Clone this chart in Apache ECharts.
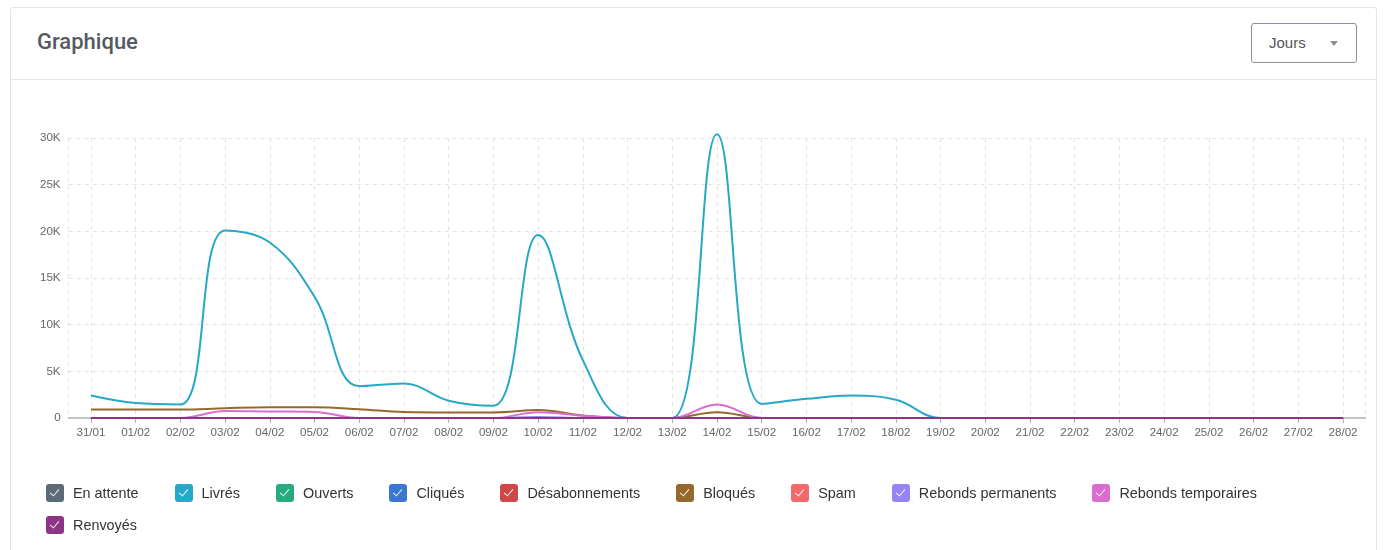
<!DOCTYPE html>
<html>
<head>
<meta charset="utf-8">
<script src="https://cdn.jsdelivr.net/npm/echarts@6/dist/echarts.min.js"></script>
<style>
  html, body { margin:0; padding:0; background:#fff; width:1389px; height:550px; overflow:hidden; }
  #card { position:absolute; left:10px; top:7px; width:1367px; height:560px; border:1px solid #e4e4e4; border-radius:3px; box-sizing:border-box; }
  #hdr { position:absolute; left:0; top:0; right:0; height:71px; border-bottom:1px solid #e4e4e4; }
  #title { position:absolute; left:26px; top:21px; font-family:Roboto, "Noto Sans", sans-serif; font-weight:500; font-size:22px; color:#555a60; }
  #btn { position:absolute; left:1240px; top:15px; width:106px; height:40px; box-sizing:border-box; border:1px solid #8a9099; border-radius:3px; font-family:"Liberation Sans", Arial, sans-serif; font-size:15px; color:#555; }
  #btn span.t { position:absolute; left:17px; top:10px; }
  #btn span.c { position:absolute; left:78px; top:17px; width:0; height:0; border-left:4px solid transparent; border-right:4px solid transparent; border-top:5px solid #8a8f96; }
  #chart { position:absolute; left:0; top:0; width:1389px; height:550px; }
  #legend { position:absolute; left:46px; top:484px; width:1290px; display:flex; flex-wrap:wrap; row-gap:14px; font-family:"Liberation Sans", Arial, sans-serif; font-size:14.4px; color:#333; }
  .it { display:flex; align-items:center; margin-right:36px; height:18px; }
  .bx { position:relative; width:18px; height:18px; border-radius:3px; margin-right:9px; }
  .bx::after { content:""; position:absolute; left:6px; top:3px; width:4px; height:8px; border-right:1.5px solid rgba(255,255,255,0.9); border-bottom:1.5px solid rgba(255,255,255,0.9); transform:rotate(40deg); }
</style>
</head>
<body>
<div id="card">
  <div id="hdr">
    <div id="title">Graphique</div>
    <div id="btn"><span class="t">Jours</span><span class="c"></span></div>
  </div>
</div>
<div id="chart"></div>
<div id="legend"></div>
<script>
const categories = ["31/01","01/02","02/02","03/02","04/02","05/02","06/02","07/02","08/02","09/02","10/02","11/02","12/02","13/02","14/02","15/02","16/02","17/02","18/02","19/02","20/02","21/02","22/02","23/02","24/02","25/02","26/02","27/02","28/02"];
const yTicks = [0, 5000, 10000, 15000, 20000, 25000, 30000];

const enAttente      = [0,0,0,0,0,0,0,0,0,0,0,0,0,0,0,0,0,0,0,0,0,0,0,0,0,0,0,0,0];
const livres         = [2400,1600,1450,20100,18800,13000,3400,3700,1850,1300,19600,6200,0,0,30400,1500,2050,2400,1950,0,0,0,0,0,0,0,0,0,0];
const ouverts        = [0,0,0,0,0,0,0,0,0,0,0,0,0,0,0,0,0,0,0,0,0,0,0,0,0,0,0,0,0];
const cliques        = [0,0,0,0,0,0,0,0,0,0,0,0,0,0,0,0,0,0,0,0,0,0,0,0,0,0,0,0,0];
const desabonnements = [0,0,0,0,0,0,0,0,0,0,0,0,0,0,0,0,0,0,0,0,0,0,0,0,0,0,0,0,0];
const bloques        = [900,900,900,1050,1150,1150,950,650,600,600,850,280,0,0,620,0,0,0,0,0,0,0,0,0,0,0,0,0,0];
const spam           = [0,0,0,0,0,0,0,0,0,0,0,0,0,0,0,0,0,0,0,0,0,0,0,0,0,0,0,0,0];
const rebondsPerm    = [0,0,0,0,0,0,0,0,0,0,120,0,0,0,0,0,0,0,0,0,0,0,0,0,0,0,0,0,0];
const rebondsTemp    = [0,0,0,750,700,650,0,0,0,0,620,250,0,0,1450,0,0,0,0,0,0,0,0,0,0,0,0,0,0];
const renvoyes       = [0,0,0,0,0,0,0,0,0,0,0,0,0,0,0,0,0,0,0,0,0,0,0,0,0,0,0,0,0];

const seriesNames  = ["En attente","Livrés","Ouverts","Cliqués","Désabonnements","Bloqués","Spam","Rebonds permanents","Rebonds temporaires","Renvoyés"];
const seriesColors = ["#5c6b78","#27a8c6","#27ab7d","#3b76d3","#cf4747","#95692c","#f06a6a","#9584f5","#da6dd0","#8c3584"];
const seriesData   = [enAttente, livres, ouverts, cliques, desabonnements, bloques, spam, rebondsPerm, rebondsTemp, renvoyes];

// legend (HTML checkboxes)
const lg = document.getElementById('legend');
seriesNames.forEach((n, i) => {
  const it = document.createElement('div'); it.className = 'it';
  const bx = document.createElement('span'); bx.className = 'bx'; bx.style.background = seriesColors[i];
  const tx = document.createElement('span'); tx.textContent = n;
  it.appendChild(bx); it.appendChild(tx); lg.appendChild(it);
});

// helper axis for the vertical dashed grid (centres + both edges)
const helperCats = [];
for (let j = 0; j <= categories.length * 2; j++) helperCats.push(String(j));

const chart = echarts.init(document.getElementById('chart'), null, { renderer: 'canvas' });
chart.setOption({
  animation: false,
  grid: { left: 68.6, right: 23.6, top: 138, bottom: 132, containLabel: false },
  xAxis: [
    {
      type: 'category', data: categories, boundaryGap: true,
      axisLine: { show: true, lineStyle: { color: '#c4c4c4', width: 2 } },
      axisTick: { show: true, alignWithLabel: true, length: 5, lineStyle: { color: '#b0b0b0' } },
      axisLabel: { color: '#666', fontSize: 11.6, fontFamily: '"Liberation Sans", Arial, sans-serif', margin: 9, interval: 0 },
      splitLine: { show: false }
    },
    {
      type: 'category', data: helperCats, boundaryGap: false, position: 'bottom',
      axisLine: { show: false }, axisTick: { show: false }, axisLabel: { show: false },
      splitLine: { show: true, interval: (idx) => idx === 0 || idx === helperCats.length - 1 || idx % 2 === 1,
                   lineStyle: { color: '#e3e3e3', type: [4, 4], width: 1 } }
    }
  ],
  yAxis: {
    type: 'value', min: yTicks[0], max: yTicks[yTicks.length - 1], interval: yTicks[1] - yTicks[0],
    axisLine: { show: false }, axisTick: { show: false },
    axisLabel: { color: '#666', fontSize: 11.6, fontFamily: '"Liberation Sans", Arial, sans-serif', margin: 8,
                 formatter: v => v === 0 ? '0' : (v / 1000) + 'K' },
    splitLine: { show: true, lineStyle: { color: '#e3e3e3', type: [4, 4], width: 1 } }
  },
  series: seriesNames.map((n, i) => ({
    name: n, type: 'line', xAxisIndex: 0, data: seriesData[i],
    smooth: 0.4, showSymbol: false, symbol: 'none', clip: false,
    lineStyle: { color: seriesColors[i], width: 2 },
    itemStyle: { color: seriesColors[i] },
    z: 2 + i
  }))
});
</script>
</body>
</html>
